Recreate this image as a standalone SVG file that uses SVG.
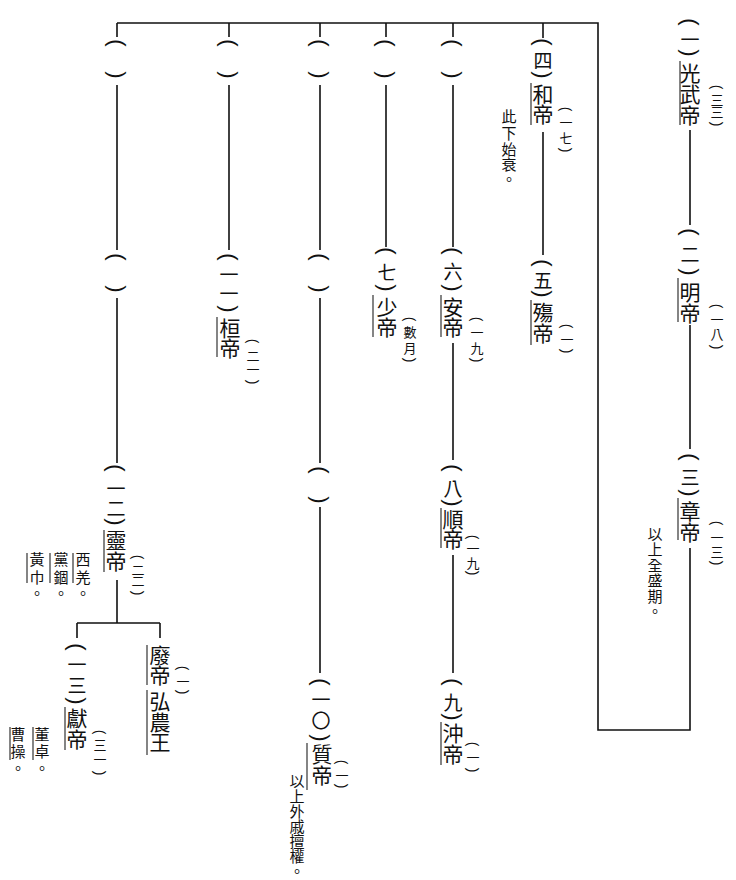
<svg xmlns="http://www.w3.org/2000/svg" width="736" height="880" viewBox="0 0 736 880">
<style>
text{font-family:"Noto Sans CJK TC","Noto Sans CJK SC",sans-serif;fill:#111;text-anchor:middle;dominant-baseline:central}
.n{font-size:21px}
.p{font-size:19px}
.s{font-size:13px}
.c{font-size:15px}
text.b{font-family:"Liberation Sans","DejaVu Sans",sans-serif;font-size:22px}
text.sb{font-family:"Liberation Sans","DejaVu Sans",sans-serif;font-size:14px}
.ln{fill:none;stroke:#111;stroke-width:1.6}
.mk{fill:none;stroke:#333;stroke-width:1.2}
</style>
<rect width="736" height="880" fill="#fff"/>
<g id="connectors" class="ln">
<path d="M117 23H598V730H690V548"/>
<path d="M690 130V225M690 325V449"/>
<path d="M117 23V37M229 23V37M320 23V37M386 23V37M453 23V37M543 23V38"/>
<path d="M117 85V250M117 298V463M117 580V623M77 623H160M77 623V638M160 623V638"/>
<path d="M229 85V250"/>
<path d="M320 85V250M320 298V463M320 507V673"/>
<path d="M386 85V247"/>
<path d="M453 85V247M453 343V460M453 555V673"/>
<path d="M543 132V255"/>
</g>
<g id="guangwu">
<text class="b" transform="translate(690 22) rotate(90)">(</text>
<text class="p" x="690" y="38">一</text>
<text class="b" transform="translate(690 53) rotate(90)">)</text>
<text class="n" x="690 690 690" y="72 93 114">光武帝</text>
<path class="mk" d="M680 61V125"/>
<text class="sb" transform="translate(717 87) rotate(90)">(</text>
<text class="s" x="717 717" y="99 111">三三</text>
<text class="sb" transform="translate(717 124) rotate(90)">)</text>
</g>
<g id="ming">
<text class="b" transform="translate(690 232) rotate(90)">(</text>
<text class="p" x="690" y="253">二</text>
<text class="b" transform="translate(690 272) rotate(90)">)</text>
<text class="n" x="690 690" y="291 312">明帝</text>
<path class="mk" d="M678 278V322"/>
<text class="sb" transform="translate(717 306) rotate(90)">(</text>
<text class="s" x="717 717" y="318 333">一八</text>
<text class="sb" transform="translate(717 347) rotate(90)">)</text>
</g>
<g id="zhang">
<text class="b" transform="translate(690 457) rotate(90)">(</text>
<text class="p" x="690" y="476">三</text>
<text class="b" transform="translate(690 493) rotate(90)">)</text>
<text class="n" x="690 690" y="510 531">章帝</text>
<path class="mk" d="M678 498V540"/>
<text class="sb" transform="translate(717 523) rotate(90)">(</text>
<text class="s" x="717 717" y="536 551">一三</text>
<text class="sb" transform="translate(717 563) rotate(90)">)</text>
<text class="c" x="655 655 655 655 655 655" y="533 548 564 579 595 610">以上全盛期。</text>
</g>
<g id="he">
<text class="b" transform="translate(543 42) rotate(90)">(</text>
<text class="p" x="543" y="59">四</text>
<text class="b" transform="translate(543 75) rotate(90)">)</text>
<text class="n" x="543 543" y="93 113">和帝</text>
<path class="mk" d="M531 83V125"/>
<text class="sb" transform="translate(566 109) rotate(90)">(</text>
<text class="s" x="566 566" y="121 137">一七</text>
<text class="sb" transform="translate(566 150) rotate(90)">)</text>
<text class="c" x="509 509 509 509 509" y="115 132 148 163 178">此下始衰。</text>
</g>
<g id="shang">
<text class="b" transform="translate(543 263) rotate(90)">(</text>
<text class="p" x="543" y="279">五</text>
<text class="b" transform="translate(543 294) rotate(90)">)</text>
<text class="n" x="543 543" y="311 332">殤帝</text>
<path class="mk" d="M531 300V345"/>
<text class="sb" transform="translate(567 326) rotate(90)">(</text>
<text class="s" x="567" y="338">一</text>
<text class="sb" transform="translate(567 351) rotate(90)">)</text>
</g>
<g id="col453-top">
<text class="b" transform="translate(453 43) rotate(90)">(</text>
<text class="b" transform="translate(453 75) rotate(90)">)</text>
</g>
<g id="an">
<text class="b" transform="translate(453 251) rotate(90)">(</text>
<text class="p" x="453" y="270">六</text>
<text class="b" transform="translate(453 288) rotate(90)">)</text>
<text class="n" x="453 453" y="306 326">安帝</text>
<path class="mk" d="M441 295V337"/>
<text class="sb" transform="translate(477 319) rotate(90)">(</text>
<text class="s" x="477 477" y="331 347">一九</text>
<text class="sb" transform="translate(477 360) rotate(90)">)</text>
</g>
<g id="shun">
<text class="b" transform="translate(453 468) rotate(90)">(</text>
<text class="p" x="453" y="487">八</text>
<text class="b" transform="translate(453 503) rotate(90)">)</text>
<text class="n" x="453 453" y="518 538">順帝</text>
<path class="mk" d="M441 508V548"/>
<text class="sb" transform="translate(473 537) rotate(90)">(</text>
<text class="s" x="473 473" y="547 562">一九</text>
<text class="sb" transform="translate(473 573) rotate(90)">)</text>
</g>
<g id="chong">
<text class="b" transform="translate(453 682) rotate(90)">(</text>
<text class="p" x="453" y="701">九</text>
<text class="b" transform="translate(453 717) rotate(90)">)</text>
<text class="n" x="453 453" y="732 753">沖帝</text>
<path class="mk" d="M441 722V765"/>
<text class="sb" transform="translate(473 744) rotate(90)">(</text>
<text class="s" x="473" y="756">一</text>
<text class="sb" transform="translate(473 770) rotate(90)">)</text>
</g>
<g id="col386-top">
<text class="b" transform="translate(386 43) rotate(90)">(</text>
<text class="b" transform="translate(386 75) rotate(90)">)</text>
</g>
<g id="shao">
<text class="b" transform="translate(387 251) rotate(90)">(</text>
<text class="p" x="387" y="271">七</text>
<text class="b" transform="translate(387 288) rotate(90)">)</text>
<text class="n" x="387 387" y="306 326">少帝</text>
<path class="mk" d="M373 295V337"/>
<text class="sb" transform="translate(410 319) rotate(90)">(</text>
<text class="s" x="410 410" y="331 347">數月</text>
<text class="sb" transform="translate(410 360) rotate(90)">)</text>
</g>
<g id="col320-a">
<text class="b" transform="translate(320 43) rotate(90)">(</text>
<text class="b" transform="translate(320 75) rotate(90)">)</text>
</g>
<g id="col320-b">
<text class="b" transform="translate(320 257) rotate(90)">(</text>
<text class="b" transform="translate(320 289) rotate(90)">)</text>
</g>
<g id="col320-c">
<text class="b" transform="translate(320 470) rotate(90)">(</text>
<text class="b" transform="translate(320 500) rotate(90)">)</text>
</g>
<g id="zhi">
<text class="b" transform="translate(321 682) rotate(90)">(</text>
<text class="p" x="321 321" y="698 719">一〇</text>
<text class="b" transform="translate(321 738) rotate(90)">)</text>
<text class="n" x="322 322" y="753 774">質帝</text>
<path class="mk" d="M307 743V790"/>
<text class="sb" transform="translate(342 762) rotate(90)">(</text>
<text class="s" x="342" y="774">一</text>
<text class="sb" transform="translate(342 786) rotate(90)">)</text>
<text class="c" x="297 297 297 297 297 297 297" y="780 795 810 825 840 855 870">以上外戚擅權。</text>
</g>
<g id="col229-top">
<text class="b" transform="translate(229 43) rotate(90)">(</text>
<text class="b" transform="translate(229 75) rotate(90)">)</text>
</g>
<g id="huan">
<text class="b" transform="translate(229 257) rotate(90)">(</text>
<text class="p" x="229 229" y="273 292">一一</text>
<text class="b" transform="translate(229 309) rotate(90)">)</text>
<text class="n" x="230 230" y="327 347">桓帝</text>
<path class="mk" d="M217 317V357"/>
<text class="sb" transform="translate(253 341) rotate(90)">(</text>
<text class="s" x="253 253" y="355 368">二一</text>
<text class="sb" transform="translate(253 382) rotate(90)">)</text>
</g>
<g id="col117-a">
<text class="b" transform="translate(117 43) rotate(90)">(</text>
<text class="b" transform="translate(117 75) rotate(90)">)</text>
</g>
<g id="col117-b">
<text class="b" transform="translate(117 257) rotate(90)">(</text>
<text class="b" transform="translate(117 289) rotate(90)">)</text>
</g>
<g id="ling">
<text class="b" transform="translate(116 468) rotate(90)">(</text>
<text class="p" x="116 116" y="487 507">一二</text>
<text class="b" transform="translate(116 522) rotate(90)">)</text>
<text class="n" x="116 116" y="539 560">靈帝</text>
<path class="mk" d="M104 530V572"/>
<text class="sb" transform="translate(138 557) rotate(90)">(</text>
<text class="s" x="138 138" y="569 580">二二</text>
<text class="sb" transform="translate(138 593) rotate(90)">)</text>
<text class="c" x="83 83 83" y="558 576 592">西羌。</text>
<path class="mk" d="M73 553V583"/>
<text class="c" x="61 61 61" y="558 576 592">黨錮。</text>
<path class="mk" d="M50 553V583"/>
<text class="c" x="37 37 37" y="558 576 592">黃巾。</text>
<path class="mk" d="M27 553V583"/>
</g>
<g id="xian">
<text class="b" transform="translate(77 647) rotate(90)">(</text>
<text class="p" x="77 77" y="663 684">一三</text>
<text class="b" transform="translate(77 701) rotate(90)">)</text>
<text class="n" x="77 77" y="717 738">獻帝</text>
<path class="mk" d="M65 707V750"/>
<text class="sb" transform="translate(100 732) rotate(90)">(</text>
<text class="s" x="100 100" y="744 758">三一</text>
<text class="sb" transform="translate(100 773) rotate(90)">)</text>
<text class="c" x="42 42 42" y="733 750 767">董卓。</text>
<path class="mk" d="M33 727V760"/>
<text class="c" x="18 18 18" y="733 750 767">曹操。</text>
<path class="mk" d="M10 727V760"/>
</g>
<g id="fei">
<text class="n" x="160 160" y="654 674">廢帝</text>
<path class="mk" d="M147 645V685"/>
<text class="n" x="160 160 160" y="700 721 741">弘農王</text>
<path class="mk" d="M147 690V755"/>
<text class="sb" transform="translate(183 668) rotate(90)">(</text>
<text class="s" x="183" y="680">一</text>
<text class="sb" transform="translate(183 692) rotate(90)">)</text>
</g>
</svg>
